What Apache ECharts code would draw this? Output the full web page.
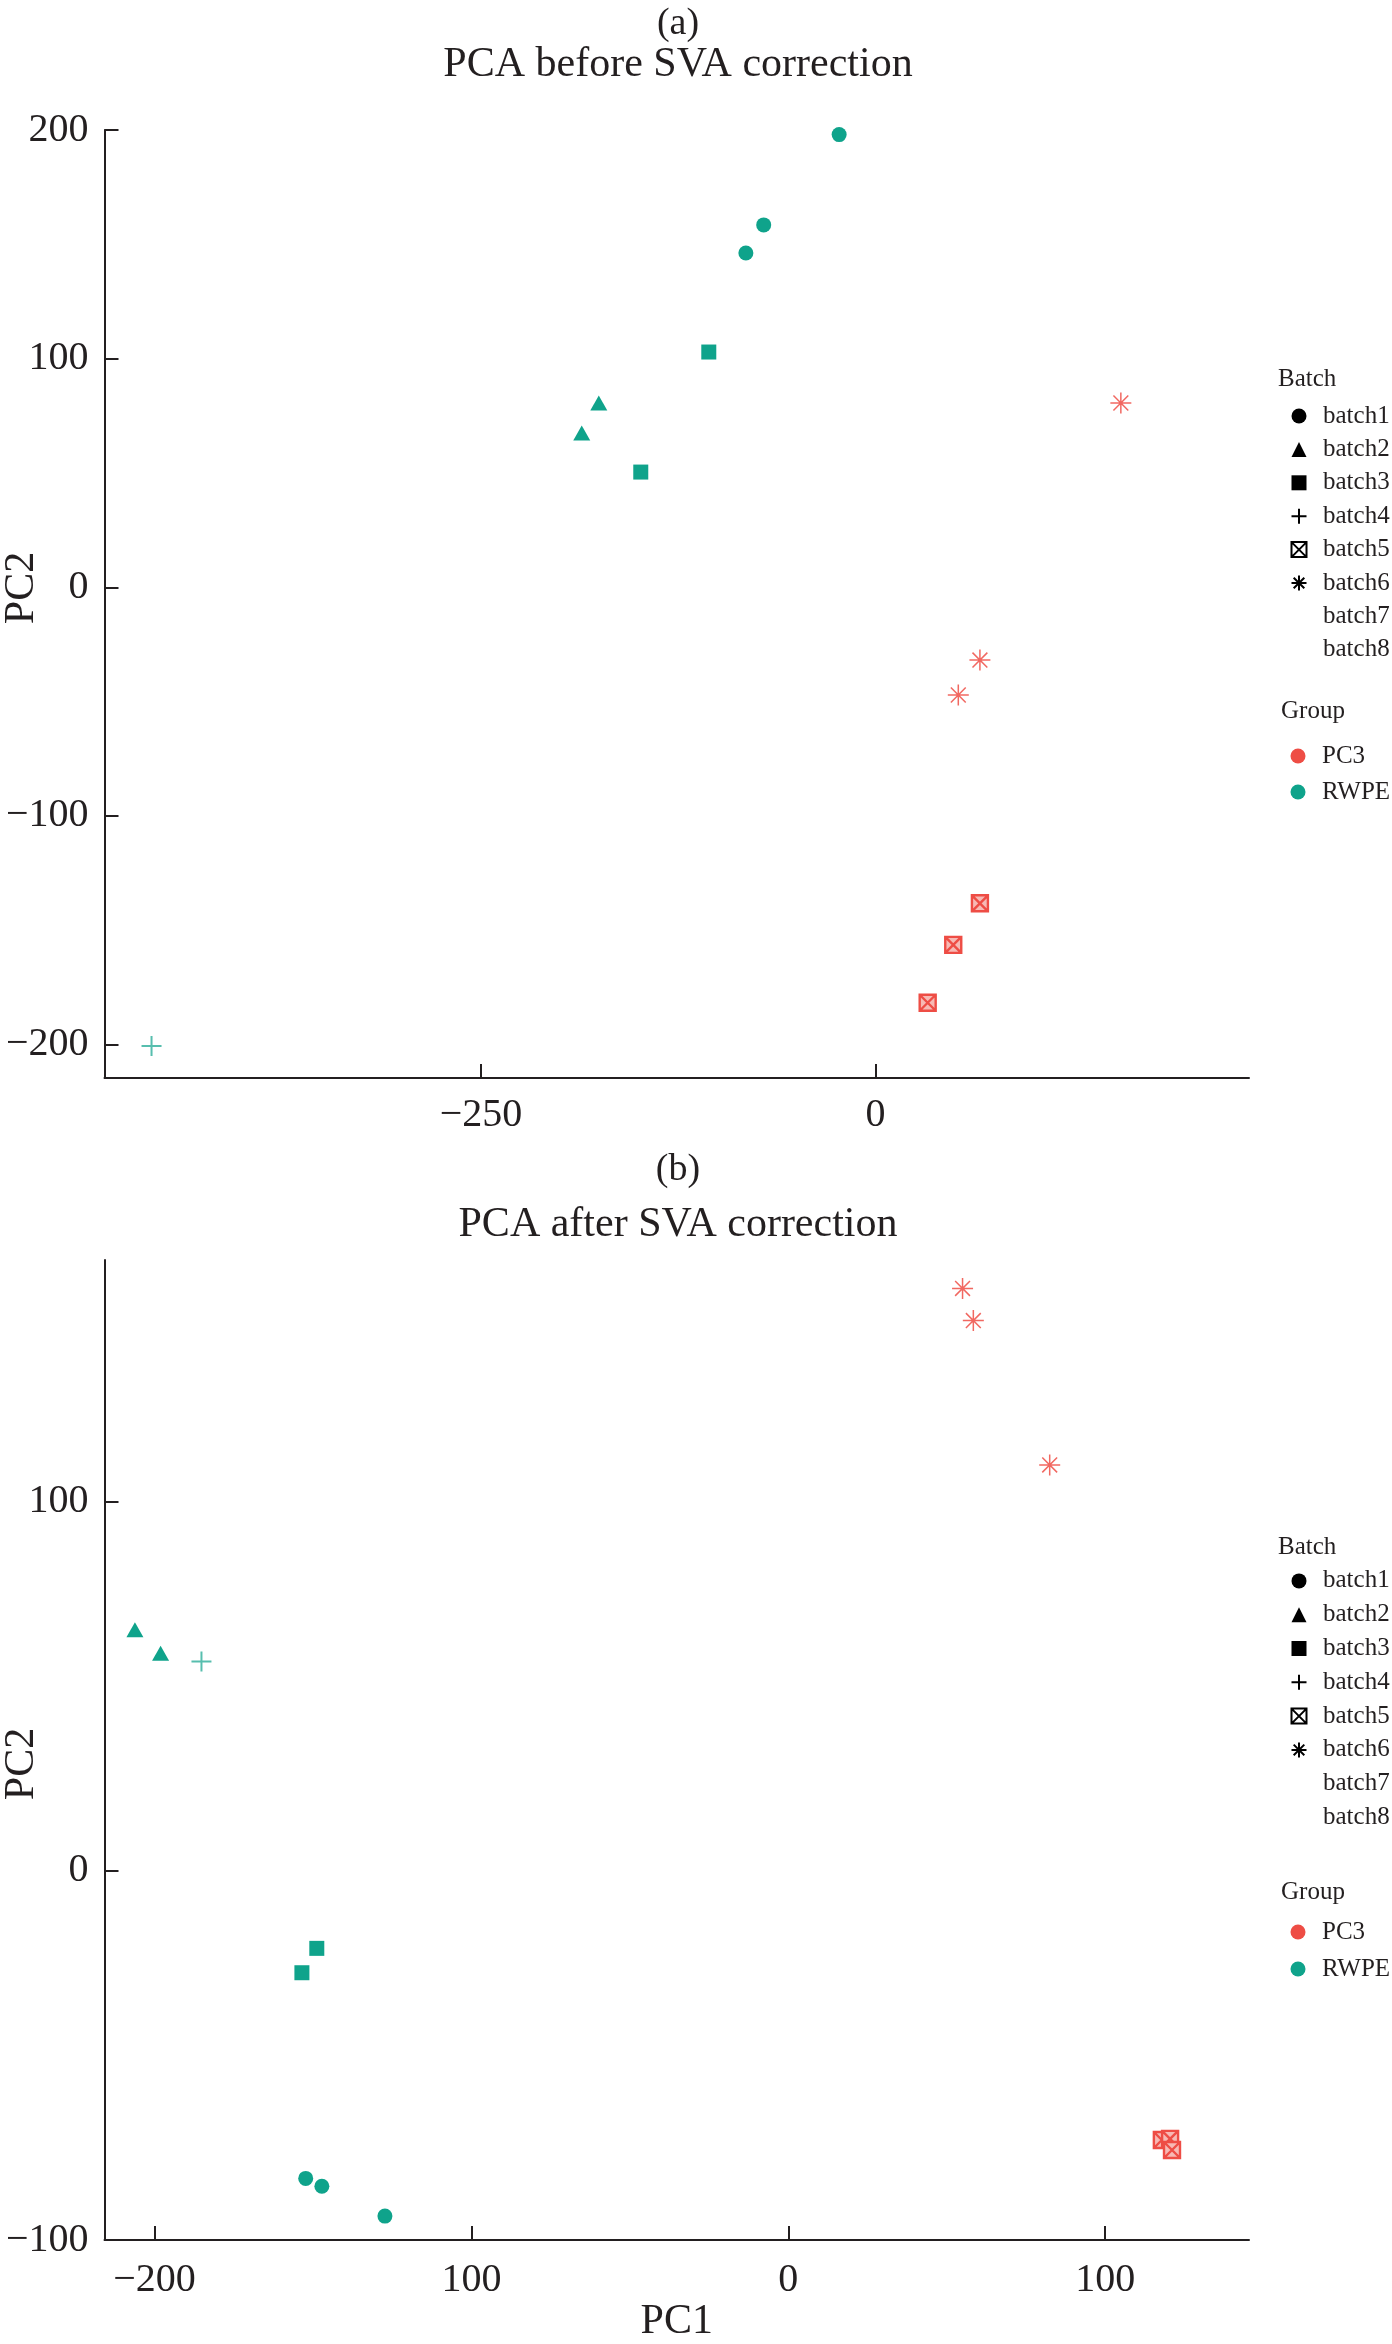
<!DOCTYPE html>
<html>
<head>
<meta charset="utf-8">
<script src="https://cdn.jsdelivr.net/npm/echarts@6/dist/echarts.min.js"></script>
<style>
html,body{margin:0;padding:0;background:#fff;}
#chart{width:1392px;height:2344px;}
</style>
</head>
<body>
<div id="chart"></div>
<script>
// ---------------- DATA ----------------
const batchNames = ['batch1','batch2','batch3','batch4','batch5','batch6','batch7','batch8'];
const groupNames = ['PC3','RWPE'];

// Panel (a): PCA before SVA correction
const beforePC1   = [-23.1, -70.9, -82.2, -175.4, -186.2, -105.7, -148.8, -458.8, 155.4, 66.1, 52.4, 66.1, 49.2, 33.0];
const beforePC2   = [198.0, 158.5, 146.2, 80.6, 67.5, 102.9, 50.4, -200.6, 80.6, -31.8, -47.1, -138.2, -156.4, -181.7];
const beforeBatch = ['batch1','batch1','batch1','batch2','batch2','batch3','batch3','batch4','batch6','batch6','batch6','batch5','batch5','batch5'];
const beforeGroup = ['RWPE','RWPE','RWPE','RWPE','RWPE','RWPE','RWPE','RWPE','PC3','PC3','PC3','PC3','PC3','PC3'];

// Panel (b): PCA after SVA correction
const afterPC1   = [-152.3, -147.2, -127.3, -206.2, -198.1, -148.8, -153.5, -185.2, 55.0, 58.4, 82.5, 117.9, 120.5, 121.1];
const afterPC2   = [-83.3, -85.4, -93.5, 65.3, 58.9, -21.0, -27.6, 56.7, 157.7, 149.0, 109.9, -72.9, -72.6, -75.6];
const afterBatch = ['batch1','batch1','batch1','batch2','batch2','batch3','batch3','batch4','batch6','batch6','batch6','batch5','batch5','batch5'];
const afterGroup = ['RWPE','RWPE','RWPE','RWPE','RWPE','RWPE','RWPE','RWPE','PC3','PC3','PC3','PC3','PC3','PC3'];

// Axis ticks and labels
const beforeXTicks = [-250, 0];
const beforeXTickLabels = ['\u2212250', '0'];
const beforeYTicks = [-200, -100, 0, 100, 200];
const beforeYTickLabels = ['\u2212200', '\u2212100', '0', '100', '200'];
const afterXTicks = [-200, -100, 0, 100];
const afterXTickLabels = ['\u2212200', '100', '0', '100'];
const afterYTicks = [-100, 0, 100];
const afterYTickLabels = ['\u2212100', '0', '100'];

// ---------------- STYLE ----------------
const FONT = "'Liberation Serif', 'DejaVu Serif', serif";
const INK = '#231f20';
const groupColor = {PC3: '#EE4D45', RWPE: '#0FA38B'};
const groupStroke = {PC3: 'rgba(238,77,69,0.85)', RWPE: 'rgba(15,163,139,0.7)'};
const groupLight = {PC3: '#F7B9B4', RWPE: '#CDEFEA'};

const TRI = 'path://M0,-1L1,1L-1,1Z';
const SQR = 'path://M-1,-1L1,-1L1,1L-1,1Z';
const PLUS = 'path://M0,-1L0,1M-1,0L1,0';
const BOXX = 'path://M-1,-1L1,-1L1,1L-1,1ZM-1,-1L1,1M1,-1L-1,1';
const ASTER = 'path://M0,-1L0,1M-1,0L1,0M-0.707,-0.707L0.707,0.707M-0.707,0.707L0.707,-0.707';

const batchSymbol = {
  batch1: {symbol: 'circle', icon: 'circle', size: 15, stroke: false},
  batch2: {symbol: 'triangle', icon: TRI, size: [17, 15], stroke: false},
  batch3: {symbol: 'rect', icon: SQR, size: 15, stroke: false},
  batch4: {symbol: PLUS, icon: PLUS, size: 20, stroke: true, lw: 2},
  batch5: {symbol: BOXX, icon: BOXX, size: 16, stroke: true, lw: 2.4, boxed: true},
  batch6: {symbol: ASTER, icon: ASTER, size: 21, stroke: true, lw: 1.5},
  batch7: {symbol: 'none', icon: 'circle', size: 0, stroke: false, hidden: true},
  batch8: {symbol: 'none', icon: 'circle', size: 0, stroke: false, hidden: true}
};

function tickFormatter(ticks, labels) {
  return function (v) {
    for (let i = 0; i < ticks.length; i++) {
      if (Math.abs(ticks[i] - v) < 1e-6) return labels[i];
    }
    return '';
  };
}

function makeAxis(opts) {
  return Object.assign({
    type: 'value',
    splitLine: {show: false},
    axisLine: {show: true, onZero: false, lineStyle: {color: INK, width: 2}},
    axisTick: {show: true, inside: true, length: 14, lineStyle: {color: INK, width: 2}, customValues: opts.ticks},
    axisLabel: {
      show: true, customValues: opts.ticks, formatter: tickFormatter(opts.ticks, opts.labels),
      fontFamily: FONT, fontSize: 40, color: INK, margin: opts.margin
    }
  }, opts.extra || {});
}

function buildSeries(pc1, pc2, batches, groups, axisIdx) {
  const out = [];
  batchNames.slice(0, 6).forEach(function (b) {
    const sym = batchSymbol[b];
    const data = [];
    for (let i = 0; i < pc1.length; i++) {
      if (batches[i] !== b) continue;
      const g = groups[i];
      const item = {value: [pc1[i], pc2[i]]};
      if (sym.stroke) {
        item.itemStyle = {color: sym.boxed ? groupLight[g] : 'rgba(0,0,0,0)',
          borderColor: sym.boxed ? groupColor[g] : groupStroke[g], borderWidth: sym.lw};
      } else {
        item.itemStyle = {color: groupColor[g], borderWidth: 0};
      }
      data.push(item);
    }
    out.push({
      type: 'scatter',
      name: b,
      xAxisIndex: axisIdx,
      yAxisIndex: axisIdx,
      symbol: sym.symbol,
      symbolSize: sym.size,
      itemStyle: sym.stroke
        ? {color: sym.boxed ? '#ffffff' : 'rgba(0,0,0,0)', borderColor: '#000', borderWidth: sym.lw, opacity: 1}
        : {color: '#000', borderWidth: 0, opacity: 1},
      emphasis: {disabled: true},
      data: data
    });
  });
  return out;
}

const series = []
  .concat(buildSeries(beforePC1, beforePC2, beforeBatch, beforeGroup, 0))
  .concat(buildSeries(afterPC1, afterPC2, afterBatch, afterGroup, 1));

// placeholder series so legends can list batch7, batch8 and the groups
['batch7', 'batch8'].forEach(function (b) {
  series.push({type: 'scatter', name: b, symbol: 'none', xAxisIndex: 0, yAxisIndex: 0, data: []});
});
groupNames.forEach(function (g) {
  series.push({type: 'scatter', name: g, symbol: 'circle', xAxisIndex: 0, yAxisIndex: 0,
    itemStyle: {color: groupColor[g], borderWidth: 0, opacity: 1}, data: []});
});

const ICON = 15;
const LEG_LEFT = 1298 - ICON / 2;   // symbol centre at x = 1298, text starts at 1322

function batchLegend(top, lh) {
  return {
    orient: 'vertical', left: LEG_LEFT, top: top, padding: 0, itemGap: 0,
    itemWidth: 38, itemHeight: ICON, selectedMode: false, symbolKeepAspect: true,
    textStyle: {fontFamily: FONT, fontSize: 25, color: INK, lineHeight: lh},
    data: batchNames.map(function (b) {
      const s = batchSymbol[b];
      const d = {name: b, icon: s.icon};
      if (s.hidden) d.itemStyle = {color: 'rgba(0,0,0,0)', borderColor: 'rgba(0,0,0,0)', borderWidth: 0, opacity: 0};
      return d;
    })
  };
}
function groupLegend(top, lh) {
  return {
    orient: 'vertical', left: LEG_LEFT, top: top, padding: 0, itemGap: 0,
    itemWidth: 38, itemHeight: ICON, selectedMode: false, symbolKeepAspect: true,
    textStyle: {fontFamily: FONT, fontSize: 25, color: INK, lineHeight: lh},
    data: groupNames.map(function (g) { return {name: g, icon: 'circle'}; })
  };
}

function txt(x, y, text, size, extra) {
  return Object.assign({
    type: 'text', x: x, y: y, silent: true,
    style: {text: text, fontFamily: FONT, fontSize: size, fill: INK,
      align: 'center', verticalAlign: 'middle', textAlign: 'center', textVerticalAlign: 'middle'}
  }, extra || {});
}
function ltxt(x, y, text, size) {
  return {
    type: 'text', x: x, y: y, silent: true,
    style: {text: text, fontFamily: FONT, fontSize: size, fill: INK,
      align: 'left', verticalAlign: 'middle', textAlign: 'left', textVerticalAlign: 'middle'}
  };
}

const option = {
  animation: false,
  backgroundColor: '#ffffff',
  grid: [
    {left: 104.5, top: 130, width: 1144.5, height: 948, containLabel: false},
    {left: 104.5, top: 1260, width: 1144.5, height: 995, containLabel: false}
  ],
  xAxis: [
    makeAxis({ticks: beforeXTicks, labels: beforeXTickLabels, margin: 17,
      extra: {gridIndex: 0, min: -488.6, max: 236.6}}),
    makeAxis({ticks: afterXTicks, labels: afterXTickLabels, margin: 20,
      extra: {gridIndex: 1, min: -215.8, max: 145.4, name: 'PC1', nameLocation: 'middle', nameGap: 42,
        nameTextStyle: {fontFamily: FONT, fontSize: 42, color: INK}}})
  ],
  yAxis: [
    makeAxis({ticks: beforeYTicks, labels: beforeYTickLabels, margin: 16,
      extra: {gridIndex: 0, min: -214.6, max: 200}}),
    makeAxis({ticks: afterYTicks, labels: afterYTickLabels, margin: 16,
      extra: {gridIndex: 1, min: -100, max: 165.4}})
  ],
  legend: [
    batchLegend(399.3, 33.4),
    groupLegend(738, 36),
    batchLegend(1564, 33.8),
    groupLegend(1913.5, 37)
  ],
  graphic: [
    txt(678, 24, '(a)', 38),
    txt(678, 65, 'PCA before SVA correction', 42),
    txt(678, 1170, '(b)', 38),
    txt(678, 1225, 'PCA after SVA correction', 42),
    txt(22, 588, 'PC2', 42, {rotation: Math.PI / 2}),
    txt(22, 1764, 'PC2', 42, {rotation: Math.PI / 2}),
    ltxt(1278, 379, 'Batch', 25),
    ltxt(1281, 711, 'Group', 25),
    ltxt(1278, 1547, 'Batch', 25),
    ltxt(1281, 1892, 'Group', 25)
  ],
  series: series
};

const chart = echarts.init(document.getElementById('chart'), null, {renderer: 'canvas'});
chart.setOption(option);
</script>
</body>
</html>
